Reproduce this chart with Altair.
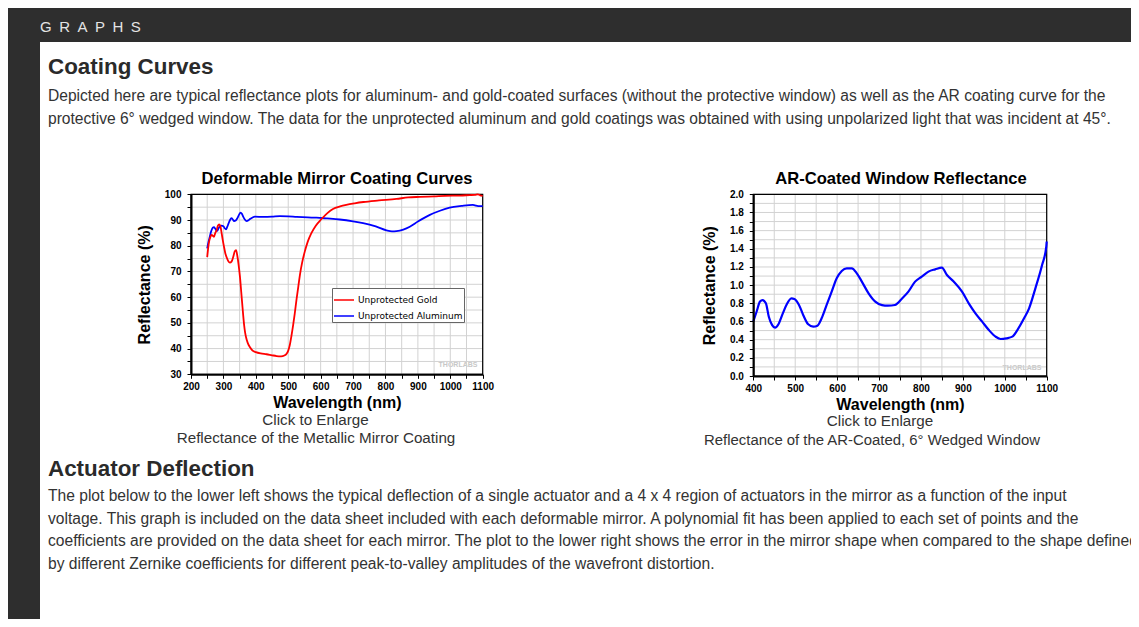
import altair as alt
import pandas as pd

# ---------------- data ----------------
gold_nm = [250, 255, 260, 264, 268, 271, 275, 279, 283, 287, 291, 295, 298, 302, 306, 310,
           315, 320, 325, 330, 335, 339, 343, 347, 351, 355, 358, 361, 364, 367, 370, 375,
           382, 390, 400, 415, 433, 450, 464, 478, 488, 495, 500, 505, 510, 515, 520, 526,
           531, 536, 543, 551, 560, 571, 585, 602, 620, 638, 660, 679, 705, 732, 780, 834,
           870, 906, 950, 984, 1030, 1060, 1076, 1085, 1092, 1100]
gold_refl = [75.6, 81.0, 83.5, 84.2, 83.8, 83.5, 85.0, 86.0, 87.8, 88.3, 87.4, 84.5, 82.2, 79.5, 77.0, 75.5,
             74.0, 73.4, 73.8, 75.5, 77.8, 78.3, 76.0, 72.5, 68.0, 62.0, 57.5, 53.0, 49.0, 46.2, 44.3, 42.2,
             40.5, 39.2, 38.6, 38.1, 37.8, 37.4, 37.1, 37.0, 37.3, 38.0, 39.2, 41.5, 45.0, 49.0, 53.5, 59.5,
             64.0, 68.6, 73.5, 77.7, 81.5, 84.8, 87.8, 90.3, 92.6, 94.3, 95.3, 95.9, 96.5, 97.0, 97.6, 98.2,
             98.8, 99.0, 99.2, 99.4, 99.5, 99.7, 99.8, 100.0, 99.6, 99.4]

alum_nm = [250, 254, 258, 262, 267, 271, 274, 278, 281, 285, 289, 294, 300, 304, 308, 312,
           316, 320, 325, 329, 333, 338, 343, 348, 353, 357, 361, 366, 372, 377, 382, 390,
           397, 423, 450, 474, 500, 526, 560, 587, 620, 659, 700, 731, 770, 803, 820, 834,
           855, 875, 900, 937, 968, 998, 1035, 1070, 1080, 1090, 1100]
alum_refl = [79.0, 81.5, 83.5, 85.5, 87.0, 87.2, 86.8, 86.0, 85.8, 86.8, 87.4, 87.8, 87.6, 86.8, 86.4, 87.4,
             88.7, 89.9, 90.7, 90.2, 89.6, 89.8, 90.7, 92.0, 92.9, 92.4, 91.3, 90.2, 89.6, 89.9, 90.4, 91.0,
             91.3, 91.2, 91.3, 91.5, 91.4, 91.2, 91.0, 90.9, 90.6, 90.2, 89.5, 88.8, 87.5, 86.0, 85.6, 85.7,
             86.3, 87.4, 89.4, 92.0, 93.6, 94.8, 95.5, 95.9, 95.6, 95.4, 95.4]

ar_nm = [400, 408, 416, 422, 430, 437, 445, 452, 460, 469, 479, 491, 498, 509, 519, 531,
         543, 553, 563, 575, 587, 599, 611, 623, 635, 647, 659, 675, 691, 707, 721, 738,
         754, 770, 786, 802, 818, 834, 850, 862, 878, 898, 914, 930, 946, 962, 978, 990,
         1004, 1018, 1030, 1046, 1058, 1073, 1089, 1099, 1100]
ar_refl = [0.60, 0.71, 0.82, 0.836, 0.80, 0.653, 0.56, 0.532, 0.569, 0.672, 0.782, 0.855, 0.848, 0.782, 0.672, 0.569,
           0.543, 0.554, 0.635, 0.782, 0.928, 1.075, 1.156, 1.185, 1.185, 1.13, 1.039, 0.91, 0.818, 0.78, 0.774, 0.782,
           0.848, 0.928, 1.039, 1.094, 1.149, 1.174, 1.193, 1.112, 1.039, 0.928, 0.80, 0.69, 0.598, 0.506, 0.433, 0.407,
           0.415, 0.433, 0.506, 0.635, 0.745, 0.965, 1.222, 1.424, 1.48]

series_names = ["Unprotected Gold", "Unprotected Aluminum"]
series_colors = ["#ff0000", "#0000ff"]

x1_ticks = list(range(200, 1101, 50))
y1_ticks = list(range(30, 101, 5))
x2_ticks = list(range(400, 1101, 50))
y2_ticks = [round(i * 0.1, 1) for i in range(21)]

header_text = "G\u2002R\u2002A\u2002P\u2002H\u2002S"
section1_title = "Coating Curves"
section1_lines = [
    "Depicted here are typical reflectance plots for aluminum- and gold-coated surfaces (without the protective window) as well as the AR coating curve for the",
    "protective 6\u00b0 wedged window. The data for the unprotected aluminum and gold coatings was obtained with using unpolarized light that was incident at 45\u00b0.",
]
chart1_title = "Deformable Mirror Coating Curves"
chart2_title = "AR-Coated Window Reflectance"
x_title = "Wavelength (nm)"
y_title = "Reflectance (%)"
click_text = "Click to Enlarge"
caption1 = "Reflectance of the Metallic Mirror Coating"
caption2 = "Reflectance of the AR-Coated, 6\u00b0 Wedged Window"
watermark = "THORLABS"
section2_title = "Actuator Deflection"
section2_lines = [
    "The plot below to the lower left shows the typical deflection of a single actuator and a 4 x 4 region of actuators in the mirror as a function of the input",
    "voltage. This graph is included on the data sheet included with each deformable mirror. A polynomial fit has been applied to each set of points and the",
    "coefficients are provided on the data sheet for each mirror. The plot to the lower right shows the error in the mirror shape when compared to the shape defined",
    "by different Zernike coefficients for different peak-to-valley amplitudes of the wavefront distortion.",
]

# ---------------- layout / style ----------------
W, H = 1123, 611
FONT = "Liberation Sans"
DARK = "#2e2e2e"
TEXT = "#333333"
GRID = "#d2d2d2"
PARA = 15.6


def text_layer(txt, x, y, size, weight="normal", color=TEXT, align="left", line_height=None):
    mk = dict(align=align, baseline="alphabetic", fontSize=size, fontWeight=weight,
              color=color, font=FONT, lineBreak="\n")
    if line_height:
        mk["lineHeight"] = line_height
    return alt.Chart(pd.DataFrame({"t": [txt]})).mark_text(**mk).encode(
        x=alt.value(x), y=alt.value(y), text="t:N")


def box(x, x2, y, y2, color):
    return alt.Chart(pd.DataFrame({"a": [0]})).mark_rect(color=color).encode(
        x=alt.value(x), x2=alt.value(x2), y=alt.value(y), y2=alt.value(y2))


def make_axis(orient, offset, values, expr, fmt, title, label_pad, title_pad):
    return alt.Axis(orient=orient, offset=offset, values=values, labelExpr=expr, format=fmt,
                    title=title, grid=False, zindex=1, domainColor="black", domainWidth=2,
                    tickColor="black", tickSize=4, tickWidth=1,
                    labelFont=FONT, labelFontSize=10, labelFontWeight="bold", labelColor="black",
                    labelPadding=label_pad, labelFlush=False, labelOverlap=False,
                    titleFont=FONT, titleFontSize=16, titleFontWeight="bold", titleColor="black",
                    titlePadding=title_pad)


def grid_layers(xs, ys, xgrid, ygrid, xdom, ydom):
    grid_v = alt.Chart(pd.DataFrame({"g": xgrid})).mark_rule(color=GRID, strokeWidth=1).encode(
        x=alt.X("g:Q", scale=xs, axis=None),
        y=alt.YDatum(ydom[0], type="quantitative", scale=ys, axis=None),
        y2=alt.Y2Datum(ydom[1]))
    grid_h = alt.Chart(pd.DataFrame({"g": ygrid})).mark_rule(color=GRID, strokeWidth=1).encode(
        y=alt.Y("g:Q", scale=ys, axis=None),
        x=alt.XDatum(xdom[0], type="quantitative", scale=xs, axis=None),
        x2=alt.X2Datum(xdom[1]))
    frame = alt.Chart(pd.DataFrame({"a": [0]})).mark_rect(
        fillOpacity=0, stroke="black", strokeWidth=1.2).encode(
        x=alt.XDatum(xdom[0], type="quantitative", scale=xs, axis=None),
        x2=alt.X2Datum(xdom[1]),
        y=alt.YDatum(ydom[0], type="quantitative", scale=ys, axis=None),
        y2=alt.Y2Datum(ydom[1]))
    return [grid_v, grid_h, frame]


# ---------- panel 1 ----------
x1s = alt.Scale(domain=[200, 1100], range=[183, 474.7], nice=False, zero=False)
y1s = alt.Scale(domain=[30, 100], range=[366.3, 186.3], nice=False, zero=False)
df1 = pd.concat([
    pd.DataFrame({"nm": alum_nm, "r": alum_refl, "series": series_names[1]}),
    pd.DataFrame({"nm": gold_nm, "r": gold_refl, "series": series_names[0]}),
])
lines1 = alt.Chart(df1).mark_line(strokeWidth=1.8, interpolate="monotone").encode(
    x=alt.X("nm:Q", scale=x1s,
            axis=make_axis("bottom", 366.3 - H, x1_ticks,
                           "datum.value % 100 == 0 ? datum.label : ''", "d", x_title, 3, 3)),
    y=alt.Y("r:Q", scale=y1s,
            axis=make_axis("left", -183, y1_ticks,
                           "datum.value % 10 == 0 ? datum.label : ''", "d", y_title, 6, 12)),
    color=alt.Color("series:N", title=None,
                    scale=alt.Scale(domain=series_names, range=series_colors),
                    legend=alt.Legend(orient="none", legendX=324, legendY=280,
                                      symbolType="stroke", symbolSize=400, symbolStrokeWidth=1.5,
                                      labelFont="DejaVu Sans", labelFontSize=9, labelColor="black",
                                      labelOffset=3, rowPadding=-6, padding=1,
                                      strokeColor="#666666", fillColor="white")),
)

# ---------- panel 2 ----------
x2s = alt.Scale(domain=[400, 1100], range=[745.3, 1038.7], nice=False, zero=False)
y2s = alt.Scale(domain=[0, 2], range=[368, 186.3], nice=False, zero=False)
df2 = pd.DataFrame({"nm": ar_nm, "r": ar_refl})
lines2 = alt.Chart(df2).mark_line(strokeWidth=2.2, color="#0000ff", interpolate="monotone").encode(
    x=alt.X("nm:Q", scale=x2s,
            axis=make_axis("bottom", 368 - H, x2_ticks,
                           "datum.value % 100 == 0 ? datum.label : ''", "d", x_title, 3, 3)),
    y=alt.Y("r:Q", scale=y2s,
            axis=make_axis("left", -745.3, y2_ticks,
                           "round(datum.value * 10) % 2 == 0 ? datum.label : ''", ".1f", y_title, 6, 12)),
)

# ---------- page decoration & text ----------
decor = [
    box(0, W, 0, 34, DARK),
    box(0, 32, 0, H, DARK),
]
texts = [
    text_layer(header_text, 32, 23.7, 15, color="#e4e4e4"),
    text_layer(section1_title, 40, 66, 22.4, weight="bold", color="#2a2a2a"),
    text_layer("\n".join(section1_lines), 40, 92.5, PARA, line_height=23),
    text_layer(chart1_title, 329, 176.3, 16.6, weight="bold", color="black", align="center"),
    text_layer(chart2_title, 893, 175.5, 16.6, weight="bold", color="black", align="center"),
    text_layer(click_text, 307.5, 416.5, 15.2, align="center"),
    text_layer(caption1, 308, 434.5, 15.2, align="center"),
    text_layer(click_text, 872, 418, 15.2, align="center"),
    text_layer(caption2, 864, 436.5, 14.9, align="center"),
    text_layer(watermark, 450, 359, 7, weight="bold", color="#c8c8c8", align="center"),
    text_layer(watermark, 1014, 362, 7, weight="bold", color="#c8c8c8", align="center"),
    text_layer(section2_title, 40, 468, 22.4, weight="bold", color="#2a2a2a"),
    text_layer("\n".join(section2_lines), 40, 493, PARA, line_height=22.7),
]

layers = (decor + texts
          + grid_layers(x1s, y1s, x1_ticks, y1_ticks, [200, 1100], [30, 100]) + [lines1]
          + grid_layers(x2s, y2s, x2_ticks, y2_ticks, [400, 1100], [0, 2]) + [lines2])

chart = alt.layer(*layers).resolve_scale(
    x="independent", y="independent", color="independent"
).properties(
    width=W, height=H, padding=0, autosize=alt.AutoSizeParams(type="none")
).configure_view(strokeWidth=0)

chart.save("out.html", embed_options={"renderer": "svg", "actions": False})
